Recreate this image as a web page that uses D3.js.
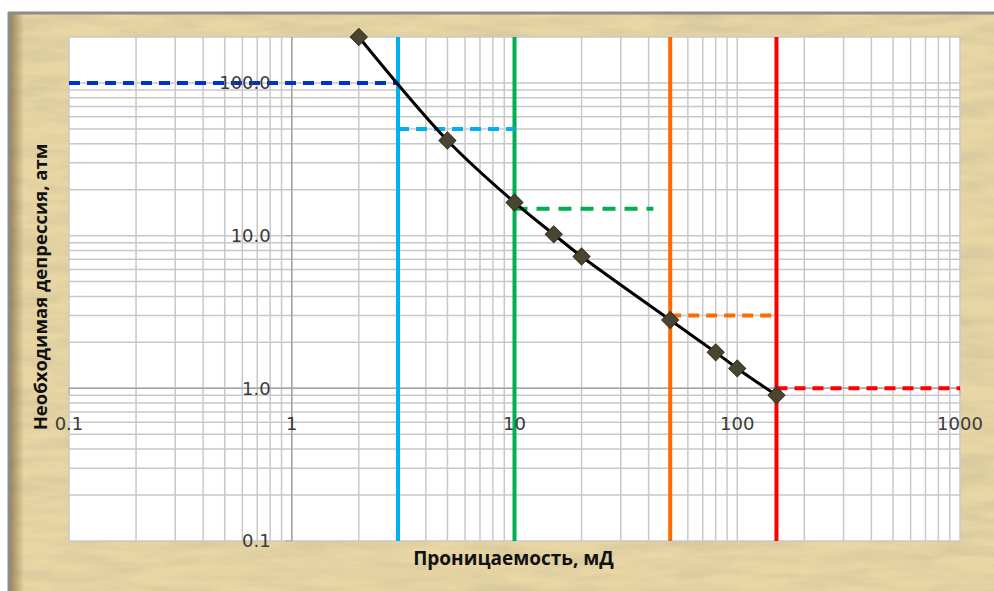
<!DOCTYPE html>
<html><head><meta charset="utf-8">
<script src="https://cdn.jsdelivr.net/npm/d3@7"></script>
<style>body{margin:0;background:#fff;}svg{display:block;}</style>
</head><body>
<svg id="c" width="994" height="591"></svg>
<script>
// Data
const permeability = [2, 5, 10, 15, 20, 50, 80, 100, 150];
const depression   = [200, 42, 16.5, 10.2, 7.3, 2.8, 1.72, 1.35, 0.9];
const vLineX      = [3, 10, 50, 150];
const vLineColors = ["#00b0f0", "#00b050", "#ff6a00", "#ff0000"];
const hSegX0 = [0.1, 3, 10, 50, 150];
const hSegX1 = [3, 10, 42, 150, 1000];
const hSegY  = [100, 50, 15, 3, 1];
const hSegColors = ["#0033cc", "#00b0f0", "#00b050", "#ff6a00", "#ff0000"];
const xTicks = [0.1, 1, 10, 100, 1000];
const xTickLabels = ["0.1", "1", "10", "100", "1000"];
const yTicks = [0.1, 1, 10, 100];
const yTickLabels = ["0.1", "1.0", "10.0", "100.0"];
const xTitle = "Проницаемость, мД";
const yTitle = "Необходимая депрессия, атм";

const svg = d3.select("#c");
const defs = svg.append("defs");
const f = defs.append("filter").attr("id","paper").attr("x",0).attr("y",0).attr("width","100%").attr("height","100%");
f.append("feTurbulence").attr("type","fractalNoise").attr("baseFrequency","0.015 0.08").attr("numOctaves",4).attr("seed",7).attr("result","n");
f.append("feColorMatrix").attr("in","n").attr("type","matrix")
 .attr("values","0 0 0 0 0.62  0 0 0 0 0.52  0 0 0 0 0.32  1.3 0 0 0 -0.45").attr("result","c");
f.append("feComposite").attr("in","c").attr("in2","SourceGraphic").attr("operator","atop");
const lg = defs.append("linearGradient").attr("id","edge").attr("x1","0").attr("x2","1");
lg.append("stop").attr("offset","0").attr("stop-color","#7a6535").attr("stop-opacity",0.8);
lg.append("stop").attr("offset","1").attr("stop-color","#7a6535").attr("stop-opacity",0);

// Frame
svg.append("rect").attr("x",8).attr("y",12).attr("width",986).attr("height",579).attr("fill","#e8d6a4").attr("filter","url(#paper)");
svg.append("rect").attr("x",8).attr("y",12).attr("width",16).attr("height",579).attr("fill","url(#edge)");
svg.append("line").attr("x1",8).attr("x2",994).attr("y1",13).attr("y2",13).attr("stroke","#8c8c8c").attr("stroke-width",3);
svg.append("line").attr("x1",9).attr("x2",9).attr("y1",12).attr("y2",591).attr("stroke","#8c8c8c").attr("stroke-width",3);

const L=69, R=960, T=37, B=541;
const x = d3.scaleLog().domain([0.1,1000]).range([L,R]);
const y = d3.scaleLog().domain([0.1,200]).range([B,T]);

svg.append("rect").attr("x",L).attr("y",T).attr("width",R-L).attr("height",B-T).attr("fill","#fff");

// grid
const g = svg.append("g");
const xGrid = [];
for (let e=-1;e<3;e++) for (let m=1;m<10;m++) xGrid.push(m*Math.pow(10,e));
xGrid.push(1000);
const yGrid = [];
for (let e=-1;e<3;e++) for (let m=1;m<10;m++){const v=m*Math.pow(10,e); if (v<=200) yGrid.push(v);}
g.selectAll(".xg").data(xGrid).join("line").attr("x1",d=>x(d)).attr("x2",d=>x(d)).attr("y1",T).attr("y2",B)
 .attr("stroke","#c8c8c8").attr("stroke-width",1.5);
g.selectAll(".yg").data(yGrid).join("line").attr("y1",d=>y(d)).attr("y2",d=>y(d)).attr("x1",L).attr("x2",R)
 .attr("stroke","#c8c8c8").attr("stroke-width",1.5);
// axes crossing at 1
g.append("line").attr("x1",x(1)).attr("x2",x(1)).attr("y1",T).attr("y2",B).attr("stroke","#a6a6a6").attr("stroke-width",1.5);
g.append("line").attr("x1",L).attr("x2",R).attr("y1",y(1)).attr("y2",y(1)).attr("stroke","#a6a6a6").attr("stroke-width",1.5);
g.selectAll(".yt").data(yTicks).join("line").attr("x1",x(1)-6).attr("x2",x(1)).attr("y1",d=>y(d)).attr("y2",d=>y(d)).attr("stroke","#a6a6a6");
g.selectAll(".xt").data(xTicks).join("line").attr("x1",d=>x(d)).attr("x2",d=>x(d)).attr("y1",y(1)).attr("y2",y(1)+6).attr("stroke","#a6a6a6");

// vertical lines
svg.selectAll(".vl").data(vLineX).join("line").attr("x1",d=>x(d)).attr("x2",d=>x(d)).attr("y1",T).attr("y2",B)
 .attr("stroke",(d,i)=>vLineColors[i]).attr("stroke-width",4);
// horizontal dashed
svg.selectAll(".hl").data(hSegY).join("line").attr("x1",(d,i)=>x(hSegX0[i])).attr("x2",(d,i)=>x(hSegX1[i]))
 .attr("y1",d=>y(d)).attr("y2",d=>y(d)).attr("stroke",(d,i)=>hSegColors[i]).attr("stroke-width",4)
 .attr("stroke-dasharray",(d,i)=>i==2?"13,9":"11,7");

// tick labels
svg.selectAll(".yl").data(yTicks).join("text").attr("x",x(1)-21).attr("y",d=>y(d)).attr("dy","0.36em")
 .attr("text-anchor","end").attr("font-family","DejaVu Sans, sans-serif").attr("font-size",18).attr("fill","#3a3a3a")
 .text((d,i)=>yTickLabels[i]);
svg.selectAll(".xl").data(xTicks).join("text").attr("x",d=>x(d)).attr("y",y(1)+42)
 .attr("text-anchor","middle").attr("font-family","DejaVu Sans, sans-serif").attr("font-size",18).attr("fill","#3a3a3a")
 .text((d,i)=>xTickLabels[i]);

// curve
const pts = permeability.map((p,i)=>[x(p), y(depression[i])]);
svg.append("path").attr("d", d3.line().curve(d3.curveCatmullRom.alpha(0.5))(pts))
 .attr("fill","none").attr("stroke","#000").attr("stroke-width",3);
svg.selectAll(".mk").data(pts).join("rect").attr("x",-6).attr("y",-6).attr("width",12).attr("height",12)
 .attr("transform",d=>`translate(${d[0]},${d[1]}) rotate(45)`).attr("fill","#4a4530").attr("stroke","#3a3520").attr("stroke-width",1);

// titles
svg.append("text").attr("x",(413+614)/2).attr("y",565).attr("text-anchor","middle")
 .attr("font-family","Open Sans, sans-serif").attr("font-weight","bold").attr("font-size",19).attr("fill","#111").text(xTitle);
svg.append("text").attr("transform","translate(47,287) rotate(-90)").attr("text-anchor","middle")
 .attr("font-family","Open Sans, sans-serif").attr("font-weight","bold").attr("font-size",18.5).attr("fill","#111").text(yTitle);
</script>
</body></html>
